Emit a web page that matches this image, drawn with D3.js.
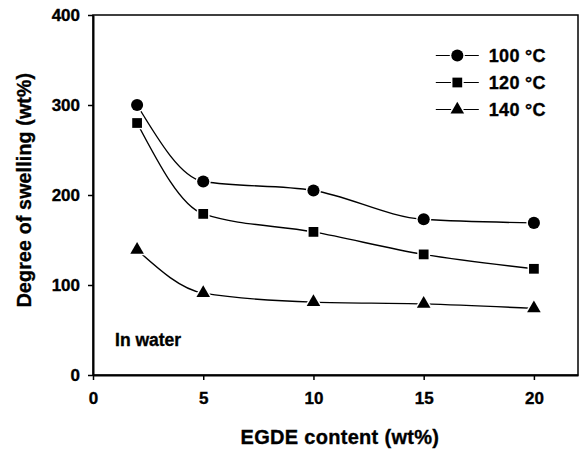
<!DOCTYPE html>
<html>
<head>
<meta charset="utf-8">
<script src="https://cdn.jsdelivr.net/npm/d3@7"></script>
<style>
  body { margin: 0; background: #fff; }
  text { font-family: "Liberation Sans", Arial, sans-serif; font-weight: bold; fill: #000; stroke: #000; stroke-width: 0.35px; }
</style>
</head>
<body>
<div id="chart-area"></div>
<script>
// data
const egde = [2, 5, 10, 15, 20]
const swell100 = [300, 215, 205, 173, 169]
const swell120 = [280, 179, 159, 134, 118]
const swell140 = [139, 91, 81, 79, 74]
const seriesNames = ['100 °C', '120 °C', '140 °C']
const xTicks = [0, 5, 10, 15, 20]
const yTicks = [0, 100, 200, 300, 400]

const MARGIN = { LEFT: 93, RIGHT: 4, TOP: 15, BOTTOM: 80 }
const WIDTH = 582 - MARGIN.LEFT - MARGIN.RIGHT
const HEIGHT = 455 - MARGIN.TOP - MARGIN.BOTTOM

const svg = d3.select('#chart-area')
  .append('svg')
  .attr('width', 582)
  .attr('height', 455)

const g = svg.append('g')
  .attr('transform', `translate(${MARGIN.LEFT},${MARGIN.TOP})`)

const x = d3.scaleLinear().domain([0, 22]).range([0, WIDTH])
const y = d3.scaleLinear().domain([0, 400]).range([HEIGHT, 0])

// frame
g.append('rect')
  .attr('width', WIDTH)
  .attr('height', HEIGHT)
  .attr('fill', 'none')
  .attr('stroke', '#000')
  .attr('stroke-width', 1.5)

const xAxisCall = d3.axisBottom(x).tickValues(xTicks).tickSize(5).tickPadding(12).tickSizeOuter(0)
const xAxis = g.append('g')
  .attr('transform', `translate(0,${HEIGHT})`)
  .call(xAxisCall)
xAxis.select('.domain').attr('stroke-width', 2)
xAxis.selectAll('line').attr('stroke-width', 1.5)
xAxis.selectAll('text').attr('font-size', '17px').attr('font-family', null)

const yAxisCall = d3.axisLeft(y).tickValues(yTicks).tickSize(5).tickPadding(8).tickSizeOuter(0)
const yAxis = g.append('g').call(yAxisCall)
yAxis.select('.domain').attr('stroke-width', 2)
yAxis.selectAll('line').attr('stroke-width', 1.5)
yAxis.selectAll('text').attr('font-size', '17px').attr('font-family', null)

// axis titles
g.append('text')
  .attr('x', x(11.2))
  .attr('y', HEIGHT + 69)
  .attr('text-anchor', 'middle')
  .attr('font-size', '20px')
  .attr('letter-spacing', '0.3px')
  .text('EGDE content (wt%)')

g.append('text')
  .attr('transform', 'rotate(-90)')
  .attr('x', -(y(200) - 5))
  .attr('y', -62)
  .attr('text-anchor', 'middle')
  .attr('font-size', '19.5px')
  .attr('letter-spacing', '0.2px')
  .text('Degree of swelling (wt%)')

g.append('text')
  .attr('x', x(1))
  .attr('y', y(32))
  .attr('font-size', '17.5px')
  .text('In water')

const series = [
  { name: seriesNames[0], values: swell100, shape: d3.symbolCircle, size: 115 },
  { name: seriesNames[1], values: swell120, shape: d3.symbolSquare, size: 95 },
  { name: seriesNames[2], values: swell140, shape: d3.symbolTriangle, size: 80 }
]

const line = d3.line()
  .x((d, i) => x(egde[i]))
  .y(d => y(d))
  .curve(d3.curveMonotoneX)

series.forEach(s => {
  g.append('path')
    .datum(s.values)
    .attr('fill', 'none')
    .attr('stroke', '#000')
    .attr('stroke-width', 1.4)
    .attr('d', line)

  g.selectAll(null)
    .data(s.values)
    .enter().append('path')
    .attr('transform', (d, i) => `translate(${x(egde[i])},${y(d)})`)
    .attr('d', d3.symbol().type(s.shape).size(s.size))
    .attr('fill', '#000')
    .attr('stroke', '#fff')
    .attr('stroke-width', 3)
    .attr('paint-order', 'stroke')
})

// legend
const legend = g.append('g')
  .attr('transform', `translate(${x(15.55)},${y(355)})`)

series.forEach((s, i) => {
  const row = legend.append('g').attr('transform', `translate(0,${i * 27})`)
  row.append('line')
    .attr('x1', 0).attr('x2', 43)
    .attr('stroke', '#000')
    .attr('stroke-width', 1.2)
  row.append('path')
    .attr('transform', 'translate(21.5,0)')
    .attr('d', d3.symbol().type(s.shape).size(s.size))
    .attr('fill', '#000')
    .attr('stroke', '#fff')
    .attr('stroke-width', 3)
    .attr('paint-order', 'stroke')
  row.append('text')
    .attr('x', 53)
    .attr('y', 6)
    .attr('font-size', '18px')
    .attr('letter-spacing', '0.3px')
    .text(s.name)
})
</script>
</body>
</html>
